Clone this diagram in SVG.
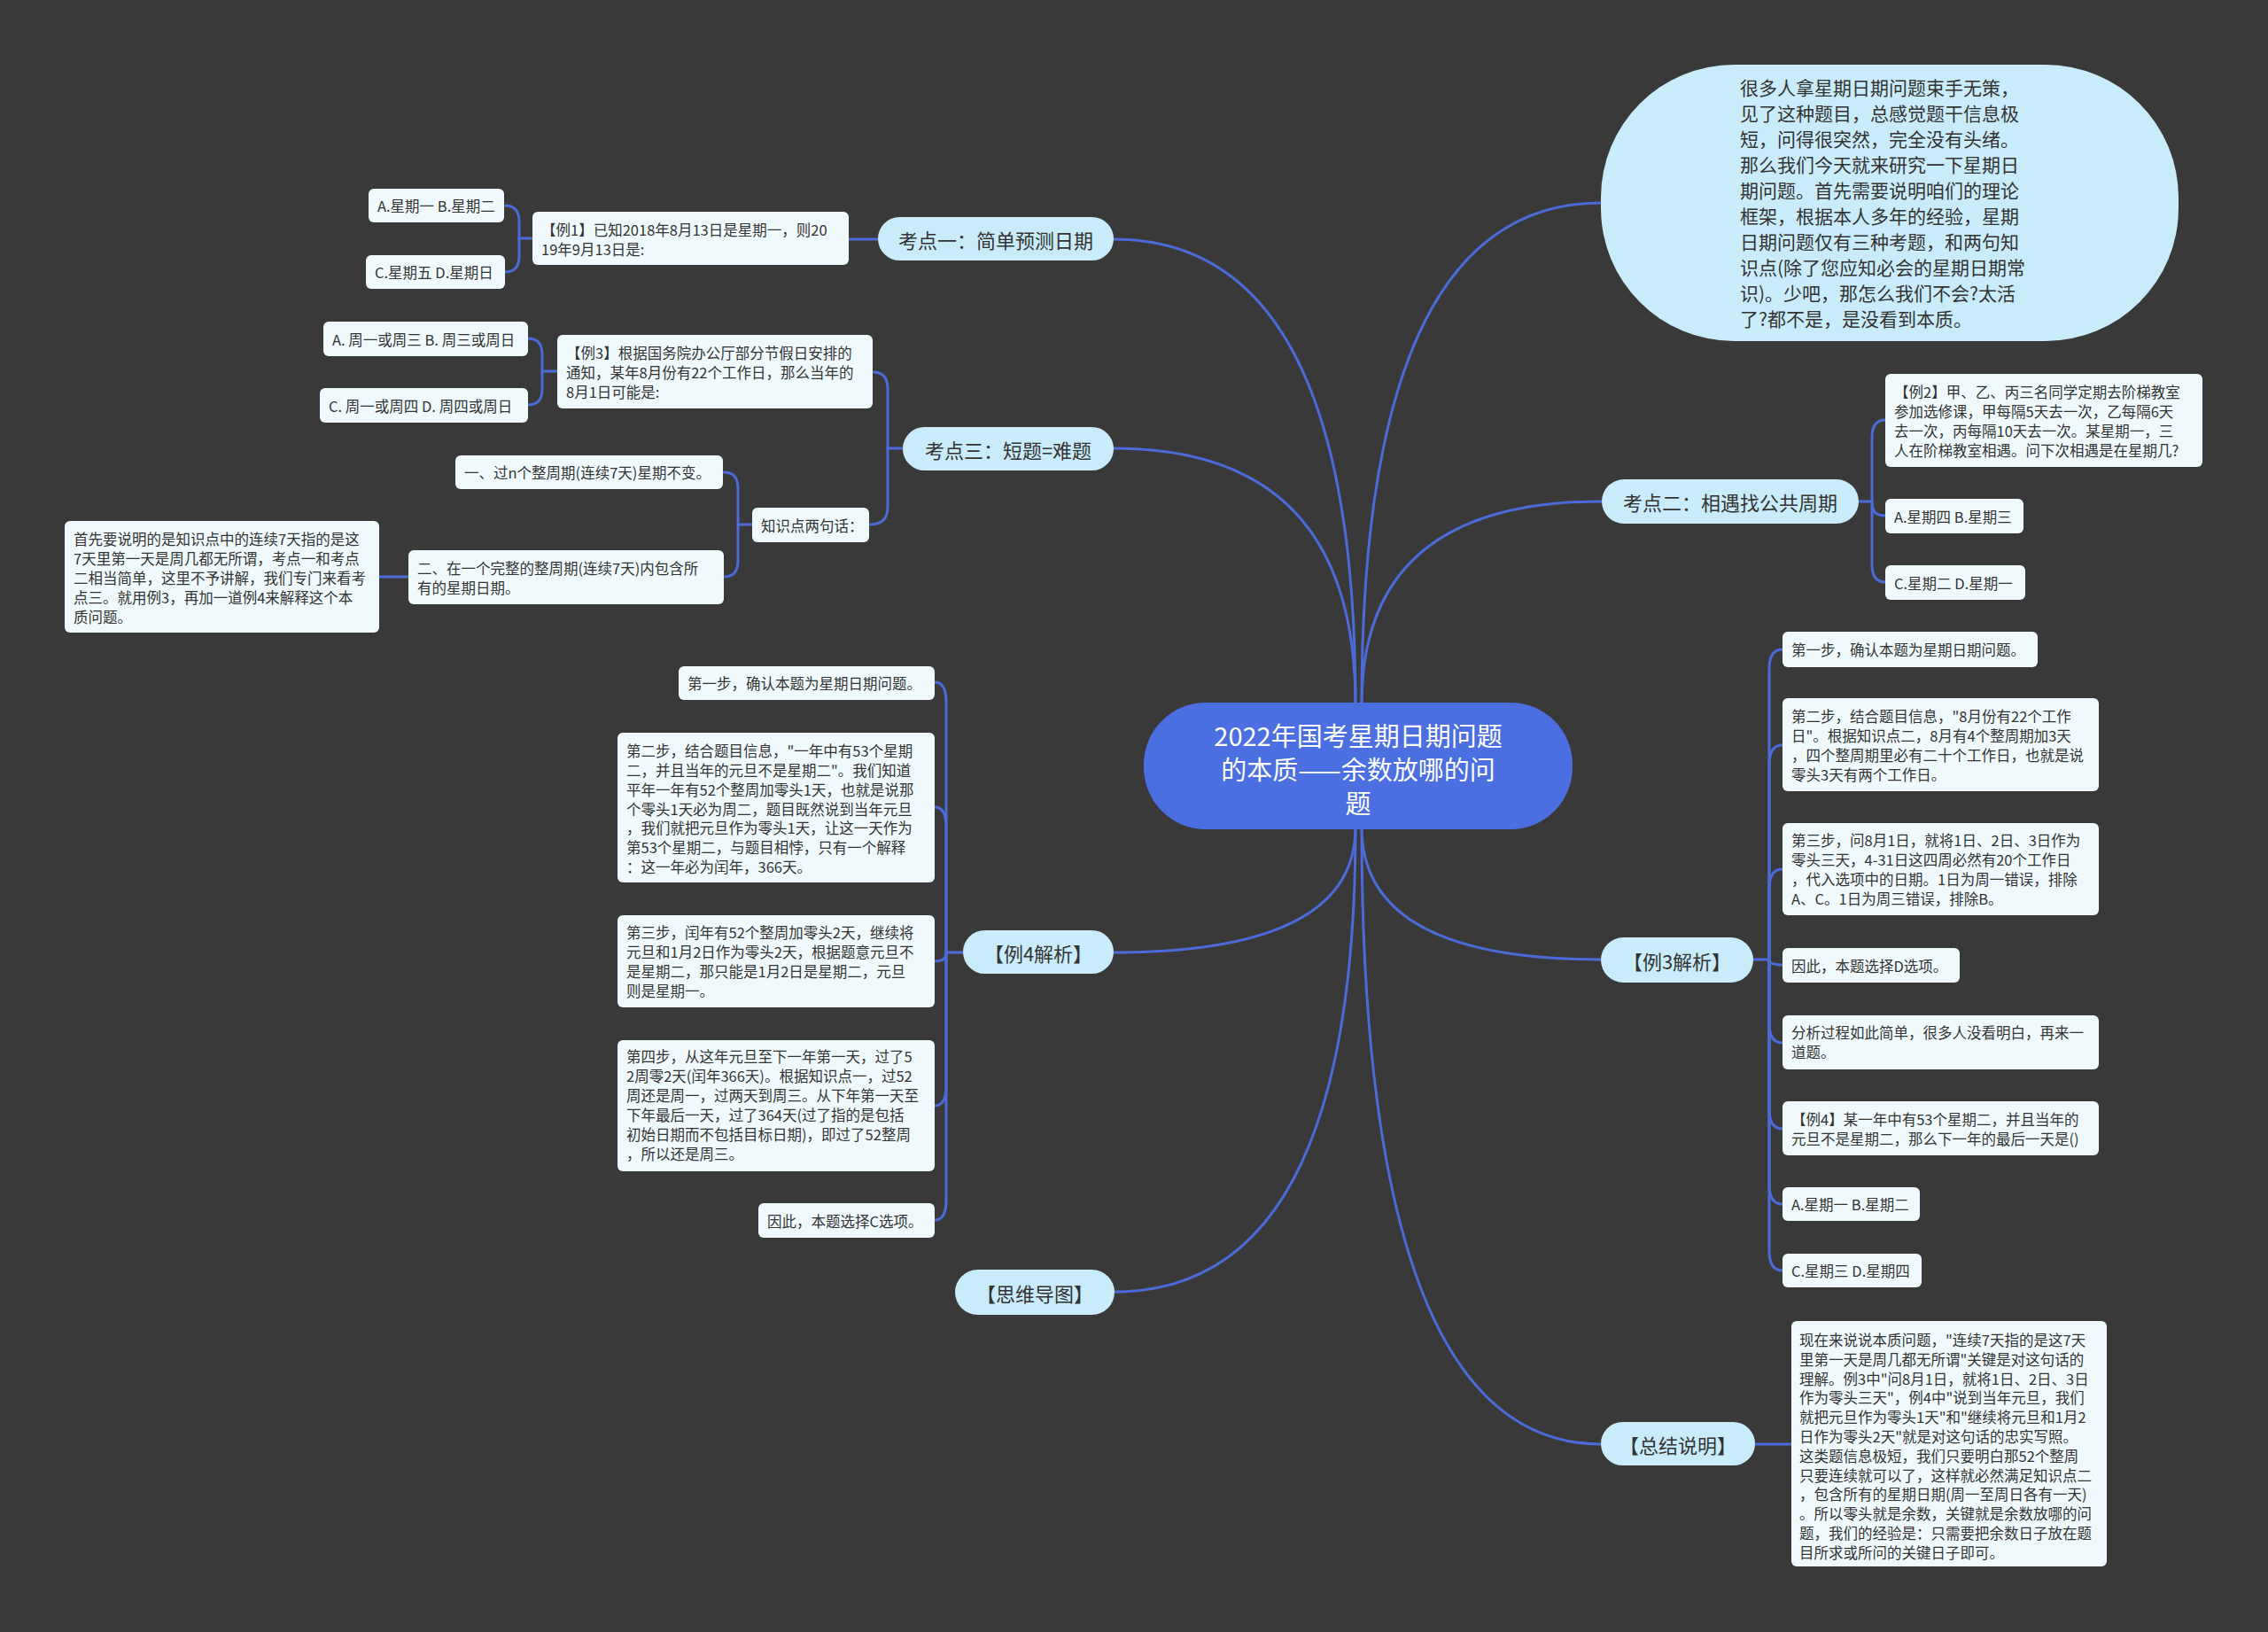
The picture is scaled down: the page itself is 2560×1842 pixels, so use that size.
<svg xmlns="http://www.w3.org/2000/svg" width="2560" height="1842" viewBox="0 0 2560 1842">
<style>
.t{font-family:"Noto Sans CJK SC","Noto Sans",sans-serif;fill:#333;dominant-baseline:central}
.s{font-size:16.5px}
.m{font-size:22px;text-anchor:middle}
.l1{fill:#c9ecfb}
.lf{fill:#f0fafd}
.cn{fill:none;stroke:#4b6bd9;stroke-width:3;stroke-linecap:round}
</style>
<rect x="0" y="0" width="2560" height="1842" fill="#3a393a"/>
<g id="connectors">
<path class="cn" d="M1530 795 Q1530 270 1257 270"/>
<path class="cn" d="M1530 795 Q1530 506 1257 506"/>
<path class="cn" d="M1537 795 Q1537 229 1807 229"/>
<path class="cn" d="M1537 795 Q1537 566 1807 566"/>
<path class="cn" d="M1530 934 Q1530 1075 1257 1075"/>
<path class="cn" d="M1530 934 Q1530 1458 1258 1458"/>
<path class="cn" d="M1537 934 Q1537 1083 1807 1083"/>
<path class="cn" d="M1537 934 Q1537 1630 1807 1630"/>
<path class="cn" d="M991 270 H958"/>
<path class="cn" d="M601 269 H586 V250 Q586 232 570 232"/>
<path class="cn" d="M586 269 V289 Q586 307 570 307"/>
<path class="cn" d="M1019 506 H1002 V440 Q1002 420 986 420"/>
<path class="cn" d="M1002 506 V572 Q1002 592 982 592"/>
<path class="cn" d="M849 592 H833 V551 Q833 533 817 533"/>
<path class="cn" d="M833 592 V633 Q833 651 817 651"/>
<path class="cn" d="M461 651 H428"/>
<path class="cn" d="M629 419 H612 V400 Q612 382 596 382"/>
<path class="cn" d="M612 419 V439 Q612 457 596 457"/>
<path class="cn" d="M2098 566 H2113 V494 Q2113 474 2128 474"/>
<path class="cn" d="M2113 566 V568 Q2113 582 2128 582"/>
<path class="cn" d="M2113 566 V637 Q2113 657 2128 657"/>
<path class="cn" d="M1979 1083 H1997 V755 Q1997 733 2012 733"/>
<path class="cn" d="M1997 1083 V863 Q1997 841 2012 841"/>
<path class="cn" d="M1997 1083 V1003 Q1997 981 2012 981"/>
<path class="cn" d="M1997 1083 Q1997 1089 2012 1089"/>
<path class="cn" d="M1997 1083 V1155 Q1997 1177 2012 1177"/>
<path class="cn" d="M1997 1083 V1252 Q1997 1274 2012 1274"/>
<path class="cn" d="M1997 1083 V1337 Q1997 1359 2012 1359"/>
<path class="cn" d="M1997 1083 V1412 Q1997 1434 2012 1434"/>
<path class="cn" d="M1981 1630 H2022"/>
<path class="cn" d="M1087 1075 H1068 V792 Q1068 770 1055 770"/>
<path class="cn" d="M1068 1075 V933 Q1068 911 1055 911"/>
<path class="cn" d="M1068 1075 Q1068 1085 1055 1085"/>
<path class="cn" d="M1068 1075 V1226 Q1068 1248 1055 1248"/>
<path class="cn" d="M1068 1075 V1355 Q1068 1377 1055 1377"/>
</g>
<g id="center">
<rect x="1291" y="793" width="484" height="143" rx="70" fill="#4b6fe0"/>
<text class="t" font-size="29" text-anchor="middle" style="fill:#fff"><tspan x="1533" y="829">2022年国考星期日期问题</tspan><tspan x="1533" y="867">的本质——余数放哪的问</tspan><tspan x="1533" y="905">题</tspan></text>
</g>
<g id="intro">
<rect x="1807" y="73" width="652" height="312" rx="150" class="l1"/>
<text class="t" font-size="21"><tspan x="1964" y="98">很多人拿星期日期问题束手无策，</tspan><tspan x="1964" y="127">见了这种题目，总感觉题干信息极</tspan><tspan x="1964" y="156">短，问得很突然，完全没有头绪。</tspan><tspan x="1964" y="185">那么我们今天就来研究一下星期日</tspan><tspan x="1964" y="214">期问题。首先需要说明咱们的理论</tspan><tspan x="1964" y="243">框架，根据本人多年的经验，星期</tspan><tspan x="1964" y="272">日期问题仅有三种考题，和两句知</tspan><tspan x="1964" y="301">识点(除了您应知必会的星期日期常</tspan><tspan x="1964" y="330">识)。少吧，那怎么我们不会?太活</tspan><tspan x="1964" y="359">了?都不是，是没看到本质。</tspan></text>
</g>
<g id="k1"><rect x="991" y="245" width="266" height="49" rx="24.5" class="l1"/><text class="t m" x="1124" y="269.5">考点一：简单预测日期</text></g>
<g id="k3"><rect x="1019" y="482" width="238" height="49" rx="24.5" class="l1"/><text class="t m" x="1138" y="506.5">考点三：短题=难题</text></g>
<g id="k2"><rect x="1808" y="541" width="290" height="50" rx="25" class="l1"/><text class="t m" x="1953" y="566">考点二：相遇找公共周期</text></g>
<g id="ex3a"><rect x="1807" y="1058" width="172" height="51" rx="25.5" class="l1"/><text class="t m" x="1893" y="1083.5">【例3解析】</text></g>
<g id="summary"><rect x="1807" y="1605" width="174" height="49" rx="24.5" class="l1"/><text class="t m" x="1894" y="1629.5">【总结说明】</text></g>
<g id="ex4a"><rect x="1087" y="1050" width="170" height="49" rx="24.5" class="l1"/><text class="t m" x="1172" y="1074.5">【例4解析】</text></g>
<g id="mindmap"><rect x="1078" y="1433" width="180" height="51" rx="25.5" class="l1"/><text class="t m" x="1168" y="1458.5">【思维导图】</text></g>

<g id="l1a"><rect x="416" y="213" width="153" height="38" rx="6" class="lf"/><text class="t s" x="426" y="232">A.星期一 B.星期二</text></g>
<g id="l1c"><rect x="413" y="288" width="157" height="38" rx="6" class="lf"/><text class="t s" x="423" y="307">C.星期五 D.星期日</text></g>
<g id="ex1"><rect x="601" y="239" width="357" height="60" rx="6" class="lf"/><text class="t s"><tspan x="611" y="259">【例1】已知2018年8月13日是星期一，则20</tspan><tspan x="611" y="281">19年9月13日是:</tspan></text></g>
<g id="a3"><rect x="365" y="363" width="231" height="39" rx="6" class="lf"/><text class="t s" x="375" y="382.5">A. 周一或周三 B. 周三或周日</text></g>
<g id="c3"><rect x="361" y="438" width="235" height="39" rx="6" class="lf"/><text class="t s" x="371" y="457.5">C. 周一或周四 D. 周四或周日</text></g>
<g id="ex3"><rect x="629" y="378" width="356" height="83" rx="6" class="lf"/><text class="t s"><tspan x="639" y="398">【例3】根据国务院办公厅部分节假日安排的</tspan><tspan x="639" y="420">通知，某年8月份有22个工作日，那么当年的</tspan><tspan x="639" y="442">8月1日可能是:</tspan></text></g>
<g id="kp"><rect x="849" y="573" width="132" height="39" rx="6" class="lf"/><text class="t s" x="859" y="592.5">知识点两句话：</text></g>
<g id="kp1"><rect x="514" y="514" width="302" height="38" rx="6" class="lf"/><text class="t s" x="524" y="533">一、过n个整周期(连续7天)星期不变。</text></g>
<g id="kp2"><rect x="461" y="621" width="356" height="61" rx="6" class="lf"/><text class="t s"><tspan x="471" y="641">二、在一个完整的整周期(连续7天)内包含所</tspan><tspan x="471" y="663">有的星期日期。</tspan></text></g>
<g id="note1"><rect x="73" y="588" width="355" height="126" rx="6" class="lf"/><text class="t s"><tspan x="83" y="608">首先要说明的是知识点中的连续7天指的是这</tspan><tspan x="83" y="630">7天里第一天是周几都无所谓，考点一和考点</tspan><tspan x="83" y="652">二相当简单，这里不予讲解，我们专门来看考</tspan><tspan x="83" y="674">点三。就用例3，再加一道例4来解释这个本</tspan><tspan x="83" y="696">质问题。</tspan></text></g>

<g id="ex2"><rect x="2128" y="422" width="358" height="105" rx="6" class="lf"/><text class="t s"><tspan x="2138" y="442">【例2】甲、乙、丙三名同学定期去阶梯教室</tspan><tspan x="2138" y="464">参加选修课，甲每隔5天去一次，乙每隔6天</tspan><tspan x="2138" y="486">去一次，丙每隔10天去一次。某星期一，三</tspan><tspan x="2138" y="508">人在阶梯教室相遇。问下次相遇是在星期几?</tspan></text></g>
<g id="k2a"><rect x="2128" y="563" width="156" height="39" rx="6" class="lf"/><text class="t s" x="2138" y="582.5">A.星期四 B.星期三</text></g>
<g id="k2c"><rect x="2128" y="638" width="158" height="39" rx="6" class="lf"/><text class="t s" x="2138" y="657.5">C.星期二 D.星期一</text></g>

<g id="s1"><rect x="2012" y="713" width="288" height="40" rx="6" class="lf"/><text class="t s" x="2022" y="733">第一步，确认本题为星期日期问题。</text></g>
<g id="s2"><rect x="2012" y="788" width="357" height="105" rx="6" class="lf"/><text class="t s"><tspan x="2022" y="808">第二步，结合题目信息，"8月份有22个工作</tspan><tspan x="2022" y="830">日"。根据知识点二，8月有4个整周期加3天</tspan><tspan x="2022" y="852">，四个整周期里必有二十个工作日，也就是说</tspan><tspan x="2022" y="874">零头3天有两个工作日。</tspan></text></g>
<g id="s3"><rect x="2012" y="929" width="357" height="104" rx="6" class="lf"/><text class="t s"><tspan x="2022" y="948">第三步，问8月1日，就将1日、2日、3日作为</tspan><tspan x="2022" y="970">零头三天，4-31日这四周必然有20个工作日</tspan><tspan x="2022" y="992">，代入选项中的日期。1日为周一错误，排除</tspan><tspan x="2022" y="1014">A、C。1日为周三错误，排除B。</tspan></text></g>
<g id="s4"><rect x="2012" y="1070" width="200" height="39" rx="6" class="lf"/><text class="t s" x="2022" y="1089.5">因此，本题选择D选项。</text></g>
<g id="s5"><rect x="2012" y="1146" width="357" height="61" rx="6" class="lf"/><text class="t s"><tspan x="2022" y="1165">分析过程如此简单，很多人没看明白，再来一</tspan><tspan x="2022" y="1187">道题。</tspan></text></g>
<g id="s6"><rect x="2012" y="1243" width="357" height="61" rx="6" class="lf"/><text class="t s"><tspan x="2022" y="1263">【例4】某一年中有53个星期二，并且当年的</tspan><tspan x="2022" y="1285">元旦不是星期二，那么下一年的最后一天是()</tspan></text></g>
<g id="s7"><rect x="2012" y="1340" width="155" height="38" rx="6" class="lf"/><text class="t s" x="2022" y="1359">A.星期一 B.星期二</text></g>
<g id="s8"><rect x="2012" y="1415" width="157" height="38" rx="6" class="lf"/><text class="t s" x="2022" y="1434">C.星期三 D.星期四</text></g>

<g id="sumtext"><rect x="2022" y="1491" width="356" height="277" rx="6" class="lf"/><text class="t s"><tspan x="2031" y="1512">现在来说说本质问题，"连续7天指的是这7天</tspan><tspan x="2031" y="1534">里第一天是周几都无所谓"关键是对这句话的</tspan><tspan x="2031" y="1556">理解。例3中"问8月1日，就将1日、2日、3日</tspan><tspan x="2031" y="1577">作为零头三天"，例4中"说到当年元旦，我们</tspan><tspan x="2031" y="1599">就把元旦作为零头1天"和"继续将元旦和1月2</tspan><tspan x="2031" y="1621">日作为零头2天"就是对这句话的忠实写照。</tspan><tspan x="2031" y="1643">这类题信息极短，我们只要明白那52个整周</tspan><tspan x="2031" y="1665">只要连续就可以了，这样就必然满足知识点二</tspan><tspan x="2031" y="1686">，包含所有的星期日期(周一至周日各有一天)</tspan><tspan x="2031" y="1708">。所以零头就是余数，关键就是余数放哪的问</tspan><tspan x="2031" y="1730">题，我们的经验是：只需要把余数日子放在题</tspan><tspan x="2031" y="1752">目所求或所问的关键日子即可。</tspan></text></g>

<g id="t1"><rect x="766" y="752" width="289" height="38" rx="6" class="lf"/><text class="t s" x="776" y="771">第一步，确认本题为星期日期问题。</text></g>
<g id="t2"><rect x="697" y="827" width="358" height="169" rx="6" class="lf"/><text class="t s"><tspan x="707" y="847">第二步，结合题目信息，"一年中有53个星期</tspan><tspan x="707" y="869">二，并且当年的元旦不是星期二"。我们知道</tspan><tspan x="707" y="891">平年一年有52个整周加零头1天，也就是说那</tspan><tspan x="707" y="913">个零头1天必为周二，题目既然说到当年元旦</tspan><tspan x="707" y="934">，我们就把元旦作为零头1天，让这一天作为</tspan><tspan x="707" y="956">第53个星期二，与题目相悖，只有一个解释</tspan><tspan x="707" y="978">：这一年必为闰年，366天。</tspan></text></g>
<g id="t3"><rect x="697" y="1033" width="358" height="104" rx="6" class="lf"/><text class="t s"><tspan x="707" y="1052">第三步，闰年有52个整周加零头2天，继续将</tspan><tspan x="707" y="1074">元旦和1月2日作为零头2天，根据题意元旦不</tspan><tspan x="707" y="1096">是星期二，那只能是1月2日是星期二，元旦</tspan><tspan x="707" y="1118">则是星期一。</tspan></text></g>
<g id="t4"><rect x="697" y="1174" width="358" height="148" rx="6" class="lf"/><text class="t s"><tspan x="707" y="1192">第四步，从这年元旦至下一年第一天，过了5</tspan><tspan x="707" y="1214">2周零2天(闰年366天)。根据知识点一，过52</tspan><tspan x="707" y="1236">周还是周一，过两天到周三。从下年第一天至</tspan><tspan x="707" y="1258">下年最后一天，过了364天(过了指的是包括</tspan><tspan x="707" y="1280">初始日期而不包括目标日期)，即过了52整周</tspan><tspan x="707" y="1302">，所以还是周三。</tspan></text></g>
<g id="t5"><rect x="856" y="1358" width="199" height="39" rx="6" class="lf"/><text class="t s" x="866" y="1377.5">因此，本题选择C选项。</text></g>
</svg>
